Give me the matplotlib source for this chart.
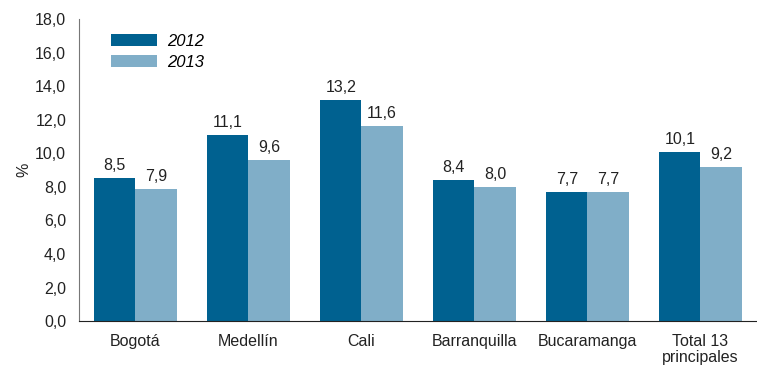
import matplotlib
matplotlib.use("Agg")
import matplotlib.pyplot as plt
import numpy as np
from matplotlib.ticker import FuncFormatter

categories = ["Bogotá", "Medellín", "Cali", "Barranquilla", "Bucaramanga", "Total 13\nprincipales"]
values_2012 = [8.5, 11.1, 13.2, 8.4, 7.7, 10.1]
values_2013 = [7.9, 9.6, 11.6, 8.0, 7.7, 9.2]
series_labels = ["2012", "2013"]

plt.rcParams["font.family"] = ["Liberation Sans", "DejaVu Sans"]

c2012 = "#006190"
c2013 = "#80AEC8"

fig = plt.figure(figsize=(7.57, 3.67), dpi=100)
ax = fig.add_axes([0.104, 0.125, 0.896, 0.823])

x = np.arange(len(categories))
w = 0.365
b1 = ax.bar(x - w / 2, values_2012, w, color=c2012, label=series_labels[0])
b2 = ax.bar(x + w / 2, values_2013, w, color=c2013, label=series_labels[1])

def fmt(v):
    return f"{v:.1f}".replace(".", ",")

for rects, vals in ((b1, values_2012), (b2, values_2013)):
    for r, v in zip(rects, vals):
        ax.text(r.get_x() + r.get_width() / 2, v + 0.3, fmt(v),
                ha="center", va="bottom", fontsize=11.5, color="#222222")

ax.set_xlim(-0.5, len(categories) - 0.5)
ax.set_ylim(0, 18)
ax.set_yticks(np.arange(0, 18.1, 2))
ax.yaxis.set_major_formatter(FuncFormatter(lambda v, p: fmt(v)))
ax.set_xticks(x)
ax.set_xticklabels(categories, fontsize=11.5, color="#222222", linespacing=1.1)
ax.tick_params(axis="y", length=0, labelsize=11.5, labelcolor="#222222", pad=9)
ax.tick_params(axis="x", length=0, pad=9)
ax.set_ylabel("%", fontsize=11.5, color="#222222", labelpad=3)

for s in ("top", "right"):
    ax.spines[s].set_visible(False)
ax.spines["left"].set_color("#777777")
ax.spines["bottom"].set_color("#222222")

leg = ax.legend(loc="upper left", bbox_to_anchor=(0.025, 1.0), frameon=False,
                handlelength=2.8, handleheight=0.7, labelspacing=0.35,
                handletextpad=0.6, prop={"style": "italic", "size": 12})

fig.savefig("out.png", dpi=100)
